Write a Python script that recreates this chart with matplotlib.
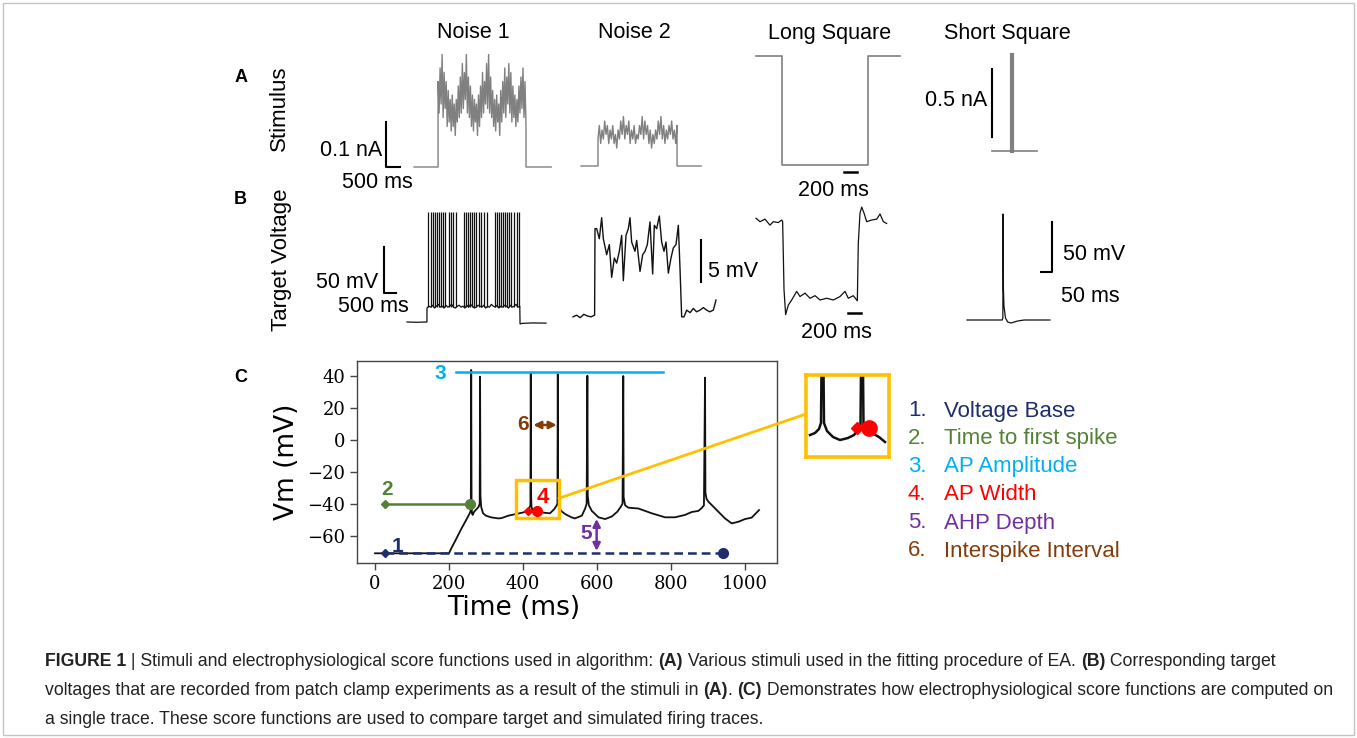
import numpy as np
import matplotlib
matplotlib.use('Agg')
import matplotlib.pyplot as plt
from matplotlib.patches import Rectangle, ConnectionPatch

W, H = 1357, 738
SANS = 'Liberation Sans'
GREY = '#808080'
BLACK = '#111111'

# ---------------- data ----------------
# A: stimuli (nA), times in ms
noise1_stim = [0.19, 0.12, 0.22, 0.14, 0.25, 0.11, 0.21, 0.13, 0.19, 0.09, 0.17, 0.10, 0.15, 0.08,
               0.16, 0.09, 0.14, 0.07, 0.15, 0.10, 0.18, 0.11, 0.20, 0.12, 0.23, 0.13, 0.21, 0.15,
               0.25, 0.12, 0.20, 0.11, 0.18, 0.09, 0.16, 0.08, 0.15, 0.10, 0.14, 0.07, 0.16, 0.09,
               0.18, 0.11, 0.21, 0.12, 0.19, 0.14, 0.23, 0.13, 0.25, 0.12, 0.20, 0.11, 0.17, 0.09,
               0.15, 0.08, 0.16, 0.10, 0.14, 0.07, 0.17, 0.10, 0.19, 0.12, 0.22, 0.11, 0.20, 0.14,
               0.23, 0.12, 0.21, 0.10, 0.18, 0.11, 0.16, 0.09, 0.15, 0.10, 0.18, 0.12, 0.20, 0.13,
               0.22, 0.11, 0.19, 0.09]
noise2_stim = [0.06, 0.09, 0.05, 0.08, 0.06, 0.10, 0.07, 0.09, 0.05, 0.08, 0.06, 0.09, 0.05, 0.07,
               0.04, 0.08, 0.06, 0.10, 0.07, 0.11, 0.06, 0.09, 0.07, 0.10, 0.05, 0.08, 0.06, 0.09,
               0.05, 0.07, 0.06, 0.09, 0.07, 0.11, 0.06, 0.10, 0.07, 0.09, 0.05, 0.08, 0.04, 0.07,
               0.05, 0.08, 0.06, 0.10, 0.07, 0.11, 0.06, 0.09, 0.05, 0.08, 0.06, 0.09, 0.07, 0.10,
               0.06, 0.08, 0.05, 0.09]
long_sq_t = [0, 400, 400, 1723, 1723, 2215]
long_sq_i = [0, 0, -0.242, -0.242, 0, 0]
short_sq_t = [0, 125, 125, 128, 128, 281]
short_sq_i = [0, 0, 0.706, 0.706, 0, 0]

# B: target voltages (mV)
noise1_vm = [-57, -55, -56, -54, -57, -55, -53, -56, -55, -57, -54, -56, -55, -53, -56, -57, -55,
             -54, -56, -55, -57, -54, -56, -53, -55, -57, -56, -54, -55, -56, -54, -57, -55, -56,
             -53, -55, -56, -54, -57, -55, -56, -54, -55, -57, -54, -56, -55, -53, -56, -55]
noise1_spikes = [875, 1000, 1083, 1167, 1250, 1333, 1417, 1500, 1583, 1750, 1833, 1917, 2042,
                 2375, 2458, 2542, 2625, 2708, 2792, 2875, 3000, 3083, 3208, 3333,
                 3667, 3750, 3833, 3917, 4000, 4083, 4167, 4250, 4333, 4458, 4583, 4667]
spike_peak = 46

noise2_t = [0, 150, 300, 450, 600, 750, 900, 917, 986, 1097, 1194, 1264, 1403, 1514, 1611, 1722,
            1819, 1931, 2028, 2097, 2208, 2306, 2375, 2444, 2583, 2653, 2792, 2903, 3000, 3097,
            3208, 3319, 3389, 3486, 3597, 3694, 3792, 3875, 3972, 4083, 4180, 4292, 4389, 4458,
            4528, 4625, 4736, 4880, 5014, 5150, 5292, 5430, 5569, 5700, 5847, 5958]
noise2_vm = [-72.1, -71.9, -72.2, -71.8, -72.0, -72.1, -71.9, -61.6, -61.6, -62.8, -60.3, -62.8,
             -64.7, -63.5, -67.4, -65.1, -65.7, -64.3, -62.4, -67.8, -62.4, -61.6, -60.3, -63.2,
             -64.3, -63.0, -66.7, -64.7, -64.3, -63.5, -60.8, -67.0, -61.2, -61.6, -60.1, -63.2,
             -64.3, -63.2, -66.9, -65.1, -63.9, -63.5, -61.2, -66.3, -72.1, -72.1, -71.3, -71.6,
             -71.1, -71.5, -71.3, -71.0, -71.3, -71.5, -71.3, -70.1]

long_vm_t = [0, 62, 138, 215, 266, 343, 395, 410, 431, 456, 497, 549, 626, 677, 754, 831, 908,
             985, 1088, 1190, 1292, 1369, 1420, 1497, 1559, 1574, 1600, 1626, 1662, 1703, 1780,
             1857, 1908, 1959, 2010]
long_vm = [-71.8, -72.2, -71.9, -72.6, -72.2, -72.3, -72.0, -72.2, -80.1, -83.0, -81.9, -81.3,
           -80.3, -80.9, -80.5, -81.1, -80.8, -81.3, -81.1, -81.3, -80.9, -80.3, -81.1, -80.8,
           -81.4, -74.7, -71.2, -70.5, -71.2, -72.2, -72.0, -71.9, -71.3, -72.2, -72.4]

short_vm_t = [0, 160, 163, 164, 165.5, 168, 175, 185, 200, 230, 260, 377]
short_vm = [-72, -72, -70, 34, -40, -58, -70, -74, -75, -73, -72, -72]

# C: simulated trace used to illustrate the score functions
c_time = [0, 200, 206, 216, 234, 248, 256, 259,
          260, 261, 262, 264, 268, 274, 280, 283,
          284, 285, 287, 292, 300, 313, 333, 342, 360, 380, 400, 410, 416, 420,
          421, 422, 423, 427, 435, 450, 473, 484, 490, 493,
          494, 495, 497, 503, 514, 531, 540, 559, 568, 572,
          574, 575, 578, 586, 604, 622, 640, 655, 664, 669,
          671, 672, 676, 685, 712, 748, 784, 811, 838, 856, 874, 884, 889,
          892, 893, 896, 901, 919, 946, 964, 982, 1000, 1018, 1038]
c_vm = [-71, -71, -68, -63.6, -55.4, -49.5, -46, -44,
        43.6, -38, -46, -47, -45, -43.5, -42, -40,
        39.4, -35, -42, -46, -47.5, -48.5, -49.2, -49, -47.5, -46.5, -45.5, -44.5, -43, -41,
        41.5, -36, -42, -45, -46, -45.5, -46, -43.5, -41.5, -40,
        40.9, -36, -42, -44.5, -46.5, -48.5, -49.2, -47.5, -43, -40,
        40, -35, -41, -44.5, -48.5, -49.6, -48, -45, -42, -40,
        39.8, -36, -41, -42.5, -43, -46, -48.5, -48.5, -47, -45.2, -44.5, -42.5, -41,
        38.8, -33, -37, -38.7, -42.9, -49.2, -52.3, -51.3, -49.6, -48.7, -44]

inset_x = [4, 9, 13, 15, 15.5, 17.5, 18, 21, 27, 34, 42, 48, 52, 54.5, 55, 57, 57.5, 60, 66, 73, 79]
inset_y = [60, 58, 54, 48, -5, -5, 48, 56, 62, 65, 63, 60, 55, 50, -5, -5, 50, 54, 58, 62, 67]

feature_names = ['Voltage Base', 'Time to first spike', 'AP Amplitude', 'AP Width',
                 'AHP Depth', 'Interspike Interval']
feature_colors = ['#1f2d6b', '#548235', '#00b0f0', '#ff0000', '#7030a0', '#843c0c']
GOLD = '#ffc000'

# ---------------- figure ----------------
fig = plt.figure(figsize=(W / 100, H / 100), dpi=100)
fig.patches.append(Rectangle((3 / W, 3 / H), 1 - 6 / W, 1 - 6 / H, transform=fig.transFigure,
                             fill=False, ec='#c4c4c4', lw=1))


def trace_ax(ox, oy, sx, sy, box, v0=0.0):
    # axes placed in pixel box; (0, v0) lands on pixel (ox, oy)
    x0, y0, x1, y1 = box
    ax = fig.add_axes([x0 / W, 1 - y1 / H, (x1 - x0) / W, (y1 - y0) / H])
    ax.set_xlim((x0 - ox) / sx, (x1 - ox) / sx)
    ax.set_ylim(v0 + (oy - y1) / sy, v0 + (oy - y0) / sy)
    ax.axis('off')
    return ax


def label(x, y, s, size=15.5, ha='center', **kw):
    return fig.text(x / W, 1 - y / H, s, fontsize=size, family=SANS, ha=ha, va='center', **kw)


# titles and row labels
for name, xc in zip(['Noise 1', 'Noise 2', 'Long Square', 'Short Square'], [473, 634, 830, 1007]):
    label(xc, 33, name)
label(241, 77, 'A', size=13, weight='bold')
label(240, 200, 'B', size=13, weight='bold')
label(241, 378, 'C', size=13, weight='bold')
label(279, 108, 'Stimulus', size=16, rotation=90)
label(282, 260, 'Target Voltage', size=16, rotation=90)

# ---- A: stimuli ----
a1 = trace_ax(414, 167, 0.028, 450, (370, 40, 560, 190))
t = [0, 860] + list(np.linspace(860, 4000, len(noise1_stim))) + [4000, 4900]
a1.plot(t, [0, 0] + noise1_stim + [0, 0], color=GREY, lw=1.0)
a1.plot([-1000, -1000, -500], [0.1, 0, 0], color='k', lw=1.5)
label(382, 151, '0.1 nA', ha='right')
label(377, 183, '500 ms')

a2 = trace_ax(581, 166, 0.028, 450, (570, 40, 715, 190))
t = [0, 607] + list(np.linspace(607, 3430, len(noise2_stim))) + [3430, 4290]
a2.plot(t, [0, 0] + noise2_stim + [0, 0], color=GREY, lw=1.0)

a3 = trace_ax(756, 56, 0.065, 450, (745, 40, 910, 200))
a3.plot(long_sq_t, long_sq_i, color=GREY, lw=1.2)
a3.plot([1354, 1554], [-0.258, -0.258], color='k', lw=1.8)
label(833, 190, '200 ms')

a4 = trace_ax(992, 151, 0.16, 136, (975, 40, 1050, 165))
a4.plot(short_sq_t, short_sq_i, color=GREY, lw=1.2)
a4.plot([126.5, 126.5], [0, short_sq_i[2]], color=GREY, lw=3)
a4.plot([0, 0], [0.105, 0.605], color='k', lw=1.5)
label(987, 100, '0.5 nA', ha='right')

# ---- B: target voltages ----
b1 = trace_ax(407, 322, 0.024, 0.93, (375, 200, 555, 335), v0=-72)
t = [0, 400, 830] + list(np.linspace(833, 4700, len(noise1_vm))) + [4710, 4800, 5200, 5790]
b1.plot(t, [-72, -72.3, -72] + noise1_vm + [-74, -73.5, -73, -73.2], color=BLACK, lw=0.9)
b1.vlines(noise1_spikes, -56, spike_peak, color=BLACK, lw=0.9)
b1.plot([-946, -946, -446], [9, -41, -41], color='k', lw=1.5)
label(378, 283, '50 mV', ha='right')
label(373, 307, '500 ms')

b2 = trace_ax(573, 316, 0.024, 8.4, (565, 205, 725, 335), v0=-72)
b2.plot(noise2_t, noise2_vm, color=BLACK, lw=1.0)
b2.plot([5333, 5333], [-68.0, -63.0], color='k', lw=1.5)
label(708, 271, '5 mV', ha='left')

b3 = trace_ax(756, 220, 0.065, 8.6, (745, 195, 895, 340), v0=-72)
b3.plot(long_vm_t, long_vm, color=BLACK, lw=0.9)
b3.plot([1415, 1615], [-82.8, -82.8], color='k', lw=1.8)
label(836, 333, '200 ms')

b4 = trace_ax(967, 320, 0.22, 1.0, (955, 200, 1065, 335), v0=-72)
b4.plot(short_vm_t, short_vm, color=BLACK, lw=0.9)
b4.plot([336, 386, 386], [-24, -24, 26], color='k', lw=1.5)
label(1063, 255, '50 mV', ha='left')
label(1061, 296, '50 ms', ha='left')

# ---- C: score functions ----
x0, x1, y0, y1 = 357, 777, 361, 563
axc = fig.add_axes([x0 / W, 1 - y1 / H, (x1 - x0) / W, (y1 - y0) / H])
axc.set_xlim((x0 - 375) / 0.37, (x1 - 375) / 0.37)
axc.set_ylim((439.7 - y1) / 1.6, (439.7 - y0) / 1.6)
axc.plot(c_time, c_vm, color=BLACK, lw=1.3, zorder=3)
axc.set_xticks([0, 200, 400, 600, 800, 1000])
axc.set_yticks([-60, -40, -20, 0, 20, 40])
for lab in axc.get_xticklabels() + axc.get_yticklabels():
    lab.set_family('DejaVu Serif')
    lab.set_fontsize(13)
axc.tick_params(length=5, width=1, color='#444444')
for sp in axc.spines.values():
    sp.set_color('#444444')
    sp.set_linewidth(1)
axc.set_xlabel('Time (ms)', fontsize=19, family='DejaVu Sans')
axc.xaxis.set_label_coords((514 - x0) / (x1 - x0), -0.16)
axc.set_ylabel('Vm (mV)', fontsize=19, family='DejaVu Sans')
axc.yaxis.set_label_coords(-0.135, 0.5)

NUM = 15
c1, c2, c3, c4, c5, c6 = feature_colors
# 1 voltage base
axc.plot([27, 940], [-71, -71], color=c1, lw=1.8, ls=(0, (3.5, 2)), zorder=4)
axc.plot([27], [-71], marker='D', ms=4, color=c1, zorder=5)
axc.plot([940], [-71], marker='o', ms=7, color=c1, zorder=5)
axc.text(60, -66.5, '1', color=c1, fontsize=NUM, weight='bold', family=SANS, ha='center', va='center')
# 2 time to first spike
axc.plot([27, 257], [-40, -40], color=c2, lw=1.8, zorder=4)
axc.plot([27], [-40], marker='D', ms=4, color=c2, zorder=5)
axc.plot([257], [-40], marker='o', ms=7, color=c2, zorder=5)
axc.text(33, -31, '2', color=c2, fontsize=NUM, weight='bold', family=SANS, ha='center', va='center')
# 3 AP amplitude
axc.plot([219, 778], [42.1, 42.1], color=c3, lw=1.8, zorder=4)
axc.text(176, 41.5, '3', color=c3, fontsize=NUM, weight='bold', family=SANS, ha='center', va='center')
# 4 AP width
axc.add_patch(Rectangle((381, -49.1), 116, 23.9, fill=False, ec=GOLD, lw=2.5, zorder=6))
axc.plot([413], [-44.4], marker='D', ms=4, color=c4, zorder=7)
axc.plot([438], [-44.4], marker='o', ms=7, color=c4, zorder=7)
axc.text(454, -36.4, '4', color=c4, fontsize=NUM + 1, weight='bold', family=SANS, ha='center', va='center')
# 5 AHP depth
axc.annotate('', xy=(599, -49.5), xytext=(599, -69.5),
             arrowprops=dict(arrowstyle='<|-|>', color=c5, lw=1.8, mutation_scale=11, shrinkA=0, shrinkB=0))
axc.text(570, -58.5, '5', color=c5, fontsize=NUM, weight='bold', family=SANS, ha='center', va='center')
# 6 interspike interval
axc.annotate('', xy=(491, 9.2), xytext=(428, 9.2),
             arrowprops=dict(arrowstyle='<|-|>', color=c6, lw=1.8, mutation_scale=11, shrinkA=0, shrinkB=0))
axc.text(401, 9.2, '6', color=c6, fontsize=NUM, weight='bold', family=SANS, ha='center', va='center')

# zoom inset of the AP width
ix0, iy0, ix1, iy1 = 806, 375, 889, 457
axi = fig.add_axes([ix0 / W, 1 - iy1 / H, (ix1 - ix0) / W, (iy1 - iy0) / H])
axi.set_xlim(0, ix1 - ix0)
axi.set_ylim(iy1 - iy0, 0)
axi.plot(inset_x, inset_y, color=BLACK, lw=1.8)
axi.plot([51], [53.3], marker='D', ms=6, color=c4)
axi.plot([63], [53.3], marker='o', ms=11, color=c4)
axi.set_xticks([])
axi.set_yticks([])
for sp in axi.spines.values():
    sp.set_color(GOLD)
    sp.set_linewidth(2.6)
con = ConnectionPatch(xyA=(497, -36.6), coordsA=axc.transData, xyB=(0, 39), coordsB=axi.transData,
                      color=GOLD, lw=2)
fig.add_artist(con)

# feature list
for k, (name, col) in enumerate(zip(feature_names, feature_colors)):
    yy = 411 + k * 28
    label(908, yy, f'{k + 1}.', size=16, ha='left', color=col)
    label(944, yy, name, size=16, ha='left', color=col)

# ---------------- caption ----------------
caption = [
    [('FIGURE 1', True), (' | Stimuli and electrophysiological score functions used in algorithm: ', False),
     ('(A)', True), (' Various stimuli used in the fitting procedure of EA. ', False), ('(B)', True),
     (' Corresponding target', False)],
    [('voltages that are recorded from patch clamp experiments as a result of the stimuli in ', False),
     ('(A)', True), ('. ', False), ('(C)', True),
     (' Demonstrates how electrophysiological score functions are computed on', False)],
    [('a single trace. These score functions are used to compare target and simulated firing traces.', False)],
]
renderer = fig.canvas.get_renderer()


def text_width(s, weight, size):
    a = fig.text(0, 0, '|' + s + '|', fontsize=size, family=SANS, weight=weight)
    b = fig.text(0, 0, '||', fontsize=size, family=SANS, weight=weight)
    w = a.get_window_extent(renderer).width - b.get_window_extent(renderer).width
    a.remove()
    b.remove()
    return w


CAP_SIZE = 12.7
for row, parts in enumerate(caption):
    x = 45
    y = 662 + row * 28.5
    for s, bold in parts:
        weight = 'bold' if bold else 'normal'
        fig.text(x / W, 1 - y / H, s, fontsize=CAP_SIZE, family=SANS, weight=weight,
                 va='center', ha='left', color='#222222')
        x += text_width(s, weight, CAP_SIZE)

fig.savefig('out.png', dpi=100)
